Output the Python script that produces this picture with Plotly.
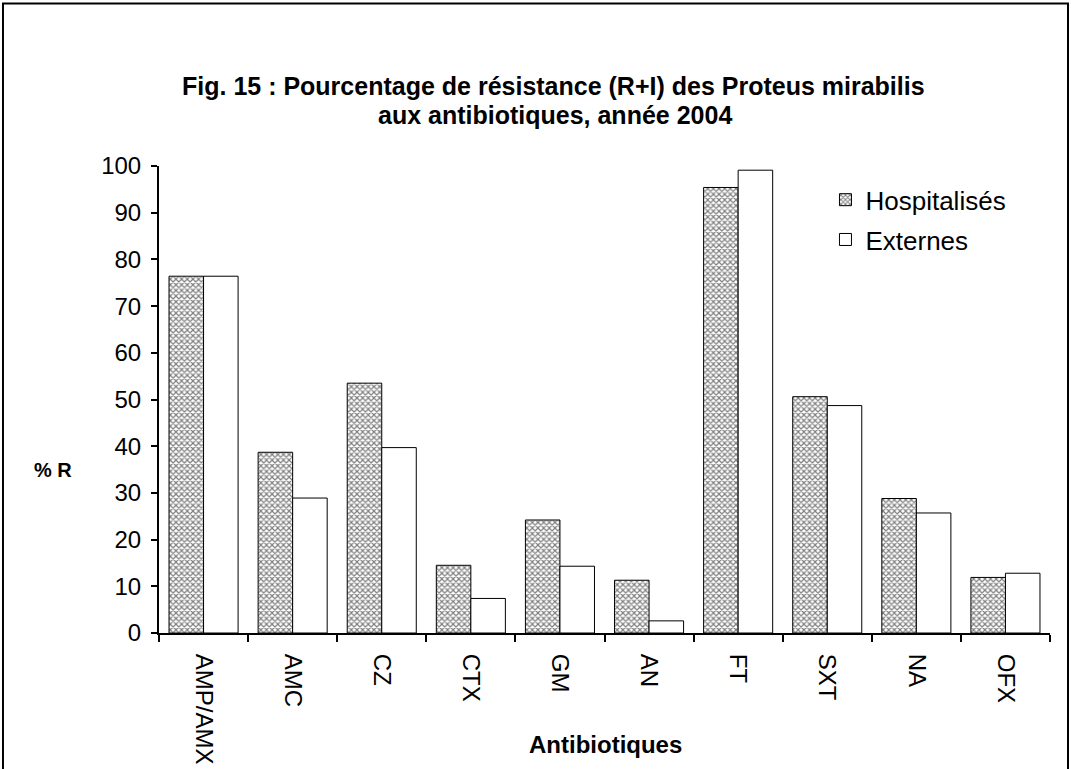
import plotly.graph_objects as go

categories = ["AMP/AMX", "AMC", "CZ", "CTX", "GM", "AN", "FT", "SXT", "NA", "OFX"]
hospitalises = [76.4, 38.7, 53.5, 14.5, 24.2, 11.3, 95.4, 50.6, 28.8, 11.9]
externes = [76.4, 28.9, 39.7, 7.4, 14.3, 2.6, 99.1, 48.7, 25.7, 12.8]
y_ticks = list(range(0, 101, 10))

FONT = "Liberation Sans, Arial, sans-serif"

fig = go.Figure()
fig.add_trace(go.Bar(
    x=categories, y=hospitalises, name="Hospitalisés", legendgroup="h",
    marker=dict(color="white", line=dict(color="black", width=1),
                pattern=dict(shape="x", size=4, solidity=0.5, fgcolor="black", bgcolor="white")),
))
fig.add_trace(go.Bar(
    x=categories, y=externes, name="Externes", legendgroup="e",
    marker=dict(color="white", line=dict(color="black", width=1)),
))

fig.update_layout(
    width=1071, height=769,
    paper_bgcolor="white", plot_bgcolor="white",
    margin=dict(l=159, r=21, t=166, b=136),
    barmode="group", bargap=0.225, bargroupgap=0,
    font=dict(family=FONT, color="black", size=22),
    legend=dict(x=0.748, y=0.978, xanchor="left", yanchor="top",
                font=dict(size=26, family=FONT), bgcolor="rgba(0,0,0,0)",
                traceorder="grouped", tracegroupgap=3, itemwidth=30),
    showlegend=True,
)
fig.update_xaxes(
    showline=True, linecolor="black", linewidth=2,
    ticks="outside", ticklen=7, tickwidth=2, tickcolor="black",
    tickson="boundaries", tickangle=90, ticklabelstandoff=14,
    tickfont=dict(size=24, family=FONT),
    showgrid=False, zeroline=False, automargin=False,
)
fig.update_yaxes(
    range=[0, 100], tickvals=y_ticks,
    showline=True, linecolor="black", linewidth=2,
    ticks="outside", ticklen=6, tickwidth=2, tickcolor="black",
    ticklabelstandoff=5,
    tickfont=dict(size=24, family=FONT),
    showgrid=False, zeroline=False, automargin=False,
)
fig.add_annotation(text="<b>Fig. 15 : Pourcentage de résistance (R+I) des Proteus mirabilis</b>",
                   xref="paper", yref="paper", x=0.443, y=1.172,
                   xanchor="center", yanchor="middle", showarrow=False,
                   font=dict(size=25, family=FONT))
fig.add_annotation(text="<b>aux antibiotiques, année 2004</b>",
                   xref="paper", yref="paper", x=0.445, y=1.110,
                   xanchor="center", yanchor="middle", showarrow=False,
                   font=dict(size=25, family=FONT))
fig.add_annotation(text="<b>% R</b>", xref="paper", yref="paper",
                   x=-0.119, y=0.349, xanchor="center", yanchor="middle", showarrow=False,
                   font=dict(size=20, family=FONT))
fig.add_annotation(text="<b>Antibiotiques</b>", xref="paper", yref="paper",
                   x=0.5006, y=-0.239, xanchor="center", yanchor="middle", showarrow=False,
                   font=dict(size=24, family=FONT))
fig.add_shape(type="rect", xref="paper", yref="paper",
              x0=-0.1751, x1=1.0202, y0=-0.5, y1=1.348,
              line=dict(color="black", width=2), fillcolor="rgba(0,0,0,0)", layer="below")

fig.write_html("out.html", config={"displayModeBar": False},
               post_script="document.body.style.margin='0';")
